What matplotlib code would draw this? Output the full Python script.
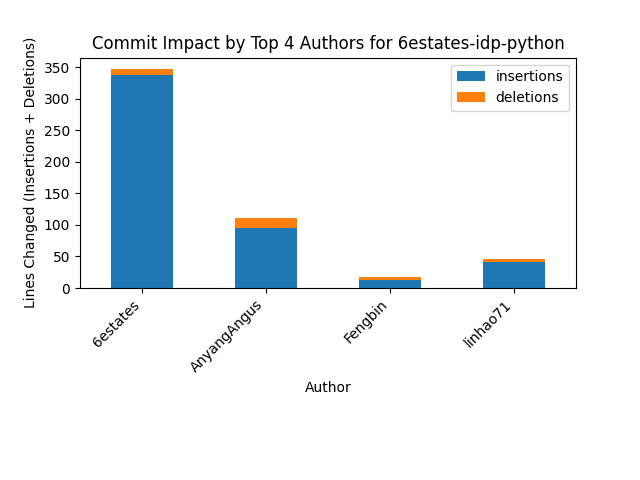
import matplotlib
matplotlib.use("Agg")
import matplotlib.pyplot as plt
import pandas as pd

authors = ["6estates", "AnyangAngus", "Fengbin", "linhao71"]
insertions = [338, 95, 13, 41]
deletions = [10, 16, 5, 5]


def main() -> None:
    df = pd.DataFrame({"insertions": insertions, "deletions": deletions}, index=authors)
    df.index.name = "Author"

    fig, ax = plt.subplots(figsize=(6.4, 4.8))
    df.plot(kind="bar", stacked=True, ax=ax)
    ax.set_title("Commit Impact by Top 4 Authors for 6estates-idp-python")
    ax.set_xlabel("Author")
    ax.set_ylabel("Lines Changed (Insertions + Deletions)")
    plt.setp(ax.get_xticklabels(), rotation=45, ha="right")
    fig.subplots_adjust(bottom=0.4)
    fig.savefig("out.png", dpi=100)


if __name__ == "__main__":
    main()
